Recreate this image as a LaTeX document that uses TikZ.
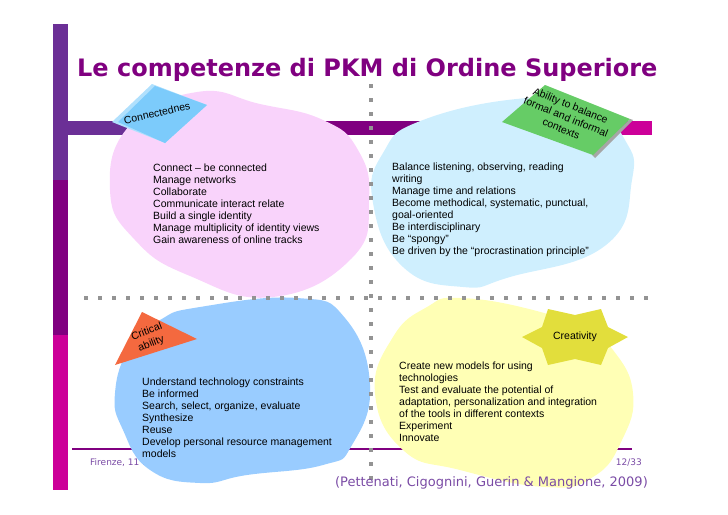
\documentclass[tikz,border=0pt]{standalone}
\usepackage{fontspec}
\setmainfont{Liberation Sans}
\newfontfamily\verdanafont{DejaVu Sans}
\definecolor{barpurple}{HTML}{6B2F96}
\definecolor{bardark}{HTML}{800080}
\definecolor{barpink}{HTML}{CC0099}
\definecolor{blobpink}{HTML}{F9D3FB}
\definecolor{blobsky}{HTML}{CFEFFE}
\definecolor{blobblue}{HTML}{99CCFF}
\definecolor{blobyellow}{HTML}{FFFFB5}
\definecolor{footviolet}{HTML}{7A4BA5}
\definecolor{tagsky}{HTML}{7CCBFB}
\definecolor{taggreen}{HTML}{66CC66}
\definecolor{tagred}{HTML}{F4693F}
\definecolor{tagstar}{HTML}{E2DE3C}
\tikzset{
  listtext/.style={anchor=north west, inner sep=0pt, align=left, font=\fontsize{10.5}{11.9}\selectfont},
  tagtext/.style={inner sep=0pt, align=center, font=\fontsize{10.5}{12.5}\selectfont},
  dotline/.style={draw=gray!85, line width=4pt, dash pattern=on 4pt off 10pt},
}
\begin{document}
\begin{tikzpicture}[x=1pt, y=-1pt]
  \useasboundingbox (0,0) rectangle (728,514);
  %bars
    \fill[barpurple] (53,24) rectangle (68,180);
    \fill[bardark] (53,180) rectangle (68,335);
    \fill[barpink] (53,335) rectangle (68,490);
    \fill[barpurple] (68,121) rectangle (250,135);
    \fill[bardark] (250,121) rectangle (530,135);
    \fill[barpink] (530,121) rectangle (652,135);
    \draw[bardark, line width=1.5pt] (72,449) -- (632,449);
    \node[anchor=base west, inner sep=0pt, text=footviolet, font=\verdanafont\fontsize{9}{10}\selectfont] (place) at (90,465) {Firenze, 11 m};
    \node[anchor=base east, inner sep=0pt, text=footviolet, font=\verdanafont\fontsize{9}{10}\selectfont] (page) at (642,465) {12/33};
  %blobs
    \fill[blobpink] plot[smooth cycle, tension=0.8] coordinates {(197,92) (260,104) (323,120) (358,150) (369,200) (352,258) (273,297) (190,276) (135,240) (110,190) (130,125)};
    \fill[blobsky] plot[smooth cycle, tension=0.8] coordinates {(423,120) (527,98) (590,106) (625,140) (632,180) (606,245) (510,277) (463,287) (403,267) (373,203) (383,153)};
    \fill[blobblue] plot[smooth cycle, tension=0.8] coordinates {(160,320) (200,307) (297,298) (345,318) (370,385) (352,445) (323,465) (247,475) (200,483) (150,470) (123,430) (115,393) (130,347)};
    \fill[blobyellow] plot[smooth cycle, tension=0.8] coordinates {(460,298) (533,310) (585,330) (613,350) (633,393) (622,440) (593,477) (545,487) (460,470) (403,450) (375,393) (393,337) (427,307)};
  %dotted cross
    \draw[dotline] (371,84) -- (371,480);
    \draw[dotline] (84,298) -- (650,298);
  %tags
    \fill[tagsky!60!white] (152,84) -- (207,105) -- (165,143) -- (112,122) -- cycle;
    \fill[tagsky] (155,86) -- (207,105) -- (165,143) -- (118,122) -- cycle;
    \node[tagtext, rotate=13] (connect) at (157,113) {Connectednes};
    \fill[gray!70] (633,120) -- (595,158) -- (592,155) -- (630,119) -- cycle;
    \fill[taggreen] (545,85) -- (630,119) -- (593,155) -- (502,122) -- cycle;
    \node[tagtext, rotate=-22] (balance) at (566,117) {Ability to balance\\formal and informal\\contexts};
    \fill[tagred] (142,312) -- (197,339) -- (115,365) -- cycle;
    \node[tagtext, rotate=21] (critical) at (149,338) {Critical\\ability};
    \fill[tagstar] (548,309) -- (575,315) -- (601,309) -- (608,327) -- (628,337) -- (608,348) -- (601,365) -- (575,359) -- (548,365) -- (542,348) -- (522,337) -- (542,327) -- cycle;
    \node[tagtext] (creativity) at (575,337) {Creativity};
  %lists
    \node[listtext] (connectlist) at (153,164) {Connect -- be connected\\Manage networks\\Collaborate\\Communicate interact relate\\Build a single identity\\Manage multiplicity of identity views\\Gain awareness of online tracks};
    \node[listtext] (balancelist) at (392,163) {Balance listening, observing, reading\\writing\\Manage time and relations\\Become methodical, systematic, punctual,\\goal-oriented\\Be interdisciplinary\\Be ``spongy''\\Be driven by the ``procrastination principle''};
    \node[listtext] (criticallist) at (142,378) {Understand technology constraints\\Be informed\\Search, select, organize, evaluate\\Synthesize\\Reuse\\Develop personal resource management\\models};
    \node[listtext] (creativitylist) at (399,362) {Create new models for using\\technologies\\Test and evaluate the potential of\\adaptation, personalization and integration\\of the tools in different contexts\\Experiment\\Innovate};
  %title and source
    \node[anchor=base west, inner sep=0pt, text=bardark, font=\verdanafont\bfseries\fontsize{24}{28}\selectfont] (title) at (77,76) {Le competenze di PKM di Ordine Superiore};
    \node[anchor=base east, inner sep=0pt, text=footviolet, font=\verdanafont\fontsize{13}{15}\selectfont] (source) at (648,486) {(Pettenati, Cigognini, Guerin \& Mangione, 2009)};
\end{tikzpicture}
\end{document}
